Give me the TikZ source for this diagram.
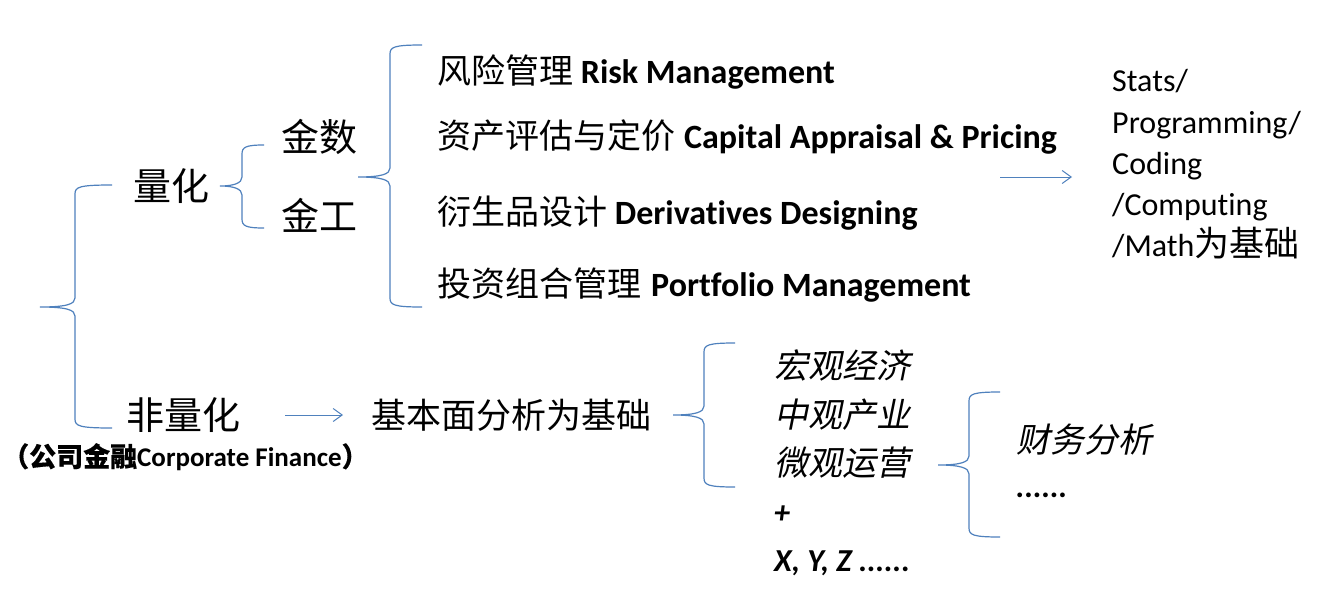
\documentclass[tikz,border=0pt]{standalone}
\usepackage{fontspec}
\setmainfont[Ligatures={NoCommon,NoRequired}]{Carlito}
\newfontfamily\cjk{Noto Sans CJK SC}
\newfontfamily\cjkit[FakeSlant=0.2]{Noto Sans CJK SC}
\newfontfamily\cjkbf[FakeBold=0.4]{Noto Sans CJK SC}
\usetikzlibrary{arrows.meta}
\definecolor{brc}{RGB}{79,129,189}
% #1 xtip, #2 ytip, #3 x of vertical, #4 ytop, #5 ybot, #6 x of arm ends
\newcommand\cbrace[6]{%
  \draw[brace line] (#6,#4) .. controls (#3+4,#4) and (#3,#4+2) .. (#3,#4+9)
    -- (#3,#2-9) .. controls (#3,#2-3) and (#3-8,#2) .. (#1,#2)
    .. controls (#3-8,#2) and (#3,#2+3) .. (#3,#2+9)
    -- (#3,#5-9) .. controls (#3,#5-2) and (#3+4,#5) .. (#6,#5);}
\begin{document}
\begin{tikzpicture}[x=1pt,y=-1pt,
  brace line/.style={draw=brc,line width=1.2pt},
  arr/.style={draw=brc,line width=1pt,-{Straight Barb[length=9pt,width=13pt]}},
  lbl/.style={inner sep=0pt,anchor=west},
  big/.style={lbl,font=\fontsize{38}{44}\selectfont\cjk},
  item/.style={lbl,font=\fontsize{34}{40}\selectfont},
  stat/.style={inner sep=0pt,anchor=base west,font=\fontsize{32}{40}\selectfont},
  ital/.style={lbl,font=\fontsize{34}{40}\selectfont\cjkit},
  latit/.style={lbl,font=\fontsize{32}{40}\selectfont\bfseries\itshape},
]
\useasboundingbox[fill=white] (0,0) rectangle (1327,602);

% braces
\cbrace{40}{307}{75}{185}{428}{112}
\cbrace{220}{186}{242}{145}{228}{264}
\cbrace{358}{177}{390}{45}{307}{422}
\cbrace{673}{415}{704}{343}{487}{735}
\cbrace{938}{465}{969}{392}{537}{1000}

% quantitative branch
\node[big] (quant) at (133,186) {量化};
\node[big] (jinshu) at (281,137) {金数};
\node[big] (jingong) at (281,215) {金工};

\node[item] (risk) at (437,72) {{\cjk 风险管理} \textbf{Risk Management}};
\node[item] (capital) at (437,137) {{\cjk 资产评估与定价}\hspace{9pt}\textbf{Capital Appraisal \& Pricing}};
\node[item] (deriv) at (437,213) {{\cjk 衍生品设计} \textbf{Derivatives Designing}};
\node[item] (port) at (437,285) {{\cjk 投资组合管理}\hspace{10pt}\textbf{Portfolio Management}};

\coordinate (qa) at (1000,177);
\coordinate (qb) at (1072,177);
\draw[arr] (qa) -- (qb);

\node[stat] (s1) at (1112,92) {Stats/};
\node[stat] (s2) at (1112,133) {Programming/};
\node[stat] (s3) at (1112,174) {Coding};
\node[stat] (s4) at (1112,215) {/Computing};
\node[stat] (s5) at (1112,256) {/Math{\fontsize{35}{40}\selectfont\cjk 为基础}};

% non-quantitative branch
\node[big] (nonq) at (126,415) {非量化};
\node[lbl,font=\fontsize{27}{30}\selectfont\bfseries] (corp) at (2,457) {{\cjkbf （公司金融}Corporate Finance{\cjkbf ）}};

\coordinate (na) at (285,415);
\coordinate (nb) at (343,415);
\draw[arr] (na) -- (nb);

\node[lbl,font=\fontsize{35}{40}\selectfont\cjk] (fund) at (371,415) {基本面分析为基础};

\node[ital] (macro) at (774,365) {宏观经济};
\node[ital] (meso) at (774,415) {中观产业};
\node[ital] (micro) at (774,463) {微观运营};
\node[latit] (plus) at (774,515) {+};
\node[latit] (xyz) at (774,563) {X, Y, Z ......};

\node[ital] (fin) at (1016,440) {财务分析};
\node[latit] (dots) at (1016,495) {......};
\end{tikzpicture}
\end{document}
